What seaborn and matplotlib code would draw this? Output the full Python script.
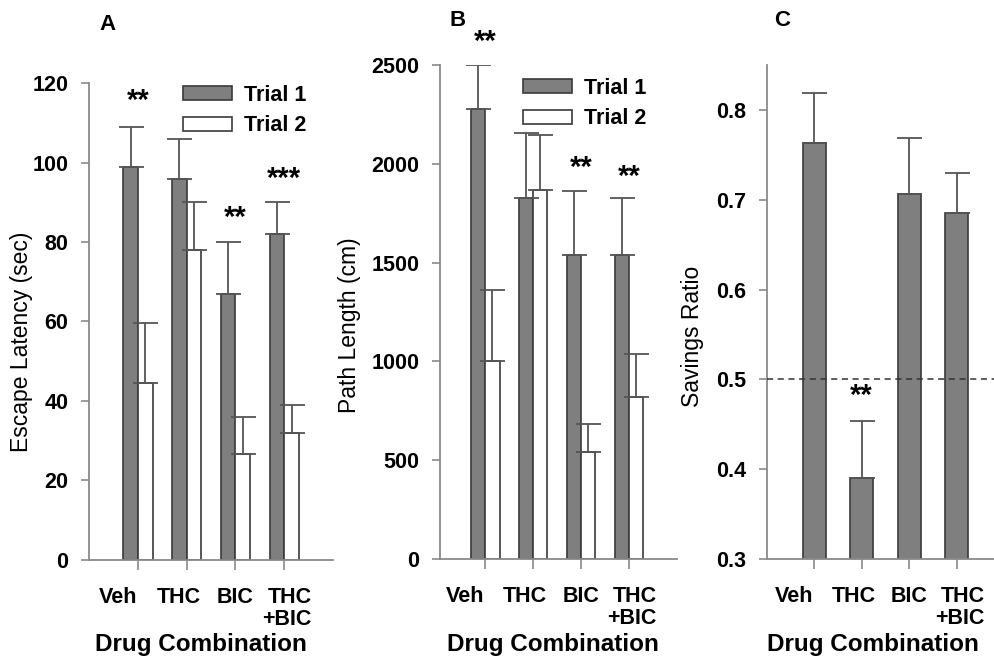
import numpy as np
import pandas as pd
import seaborn as sns
import matplotlib
matplotlib.use("Agg")
import matplotlib.pyplot as plt
from matplotlib.patches import Patch
from matplotlib.transforms import ScaledTranslation

# ---------------- data ----------------
drugs = ["Veh", "THC", "BIC", "THC\n+BIC"]
trials = ["Trial 1", "Trial 2"]

latency_t1 = [99, 96, 67, 82]
latency_t1_sem = [10, 10, 13, 8]
latency_t2 = [44.5, 78, 26.5, 32]
latency_t2_sem = [15, 12, 9.5, 7]

path_t1 = [2280, 1828, 1540, 1540]
path_t1_sem = [220, 329, 324, 288]
path_t2 = [1002, 1866, 538, 819]
path_t2_sem = [357, 282, 144, 220]

savings = [0.763, 0.390, 0.706, 0.685]
savings_sem = [0.056, 0.063, 0.063, 0.045]

latency_ticks = [0, 20, 40, 60, 80, 100, 120]
path_ticks = [0, 500, 1000, 1500, 2000, 2500]
savings_ticks = [0.3, 0.4, 0.5, 0.6, 0.7, 0.8]

# significance marks: (category index, y value, text)
latency_sig = [(0, 117.6, "**"), (2, 88, "**"), (3, 98, "***")]
path_sig = [(0, 2660, "**"), (2, 2020, "**"), (3, 1977, "**")]
savings_sig = [(1, 0.490, "**")]

# ---------------- style ----------------
sns.set_theme(style="ticks")
plt.rcParams["font.family"] = ["Liberation Sans", "DejaVu Sans"]
plt.rcParams["text.color"] = "black"
plt.rcParams["axes.labelcolor"] = "black"

DARK = "#7f7f7f"
EDGE = "#3a3a3a"
SPINE = "#8a8a8a"
ERR = "#555555"
palette = {"Trial 1": DARK, "Trial 2": "white"}
label_offsets_px = [-20, -8, 0, 3]

fig = plt.figure(figsize=(9.94, 6.6), dpi=100)
axA = fig.add_axes([0.0898, 0.152, 0.2452, 0.7218])
axB = fig.add_axes([0.4427, 0.1535, 0.2384, 0.7477])
axC = fig.add_axes([0.7716, 0.1535, 0.2284, 0.7477])


def long_df(v1, v2):
    return pd.DataFrame({
        "drug": drugs * 2,
        "trial": [trials[0]] * 4 + [trials[1]] * 4,
        "value": list(v1) + list(v2),
    })


def add_errors(ax, sems_per_container):
    for cont, sems in zip(list(ax.containers), sems_per_container):
        xs = [b.get_x() + b.get_width() / 2 for b in cont]
        ys = [b.get_height() + b.get_y() for b in cont]
        ax.errorbar(xs, ys, yerr=[np.zeros(len(sems)), sems], fmt="none",
                    ecolor=ERR, elinewidth=1.3, capsize=9, capthick=1.3, zorder=3)


def style_axis(ax, xlim, ylim, yticks, ylabel, ylabel_xy, xlabel_xy, fmt=None):
    ax.set_xlim(*xlim)
    ax.set_ylim(*ylim)
    ax.set_yticks(yticks)
    if fmt:
        ax.set_yticklabels([fmt(t) for t in yticks])
    for s in ["top", "right"]:
        ax.spines[s].set_visible(False)
    for s in ["left", "bottom"]:
        ax.spines[s].set_color(SPINE)
        ax.spines[s].set_linewidth(1.3)
    ax.tick_params(axis="y", length=6, width=1.2, color=SPINE, pad=9,
                   labelsize=15.5, labelcolor="black")
    ax.tick_params(axis="x", length=7, width=1.2, color=SPINE, pad=13,
                   labelsize=15.5, labelcolor="black")
    for lbl in ax.get_yticklabels():
        lbl.set_fontweight("bold")
    ax.set_xticks(range(len(drugs)))
    ax.set_xticklabels(drugs, fontweight="bold", fontsize=15.5,
                       multialignment="right", linespacing=1.05)
    for lbl, dx in zip(ax.get_xticklabels(), label_offsets_px):
        lbl.set_transform(lbl.get_transform() +
                          ScaledTranslation(dx / 100, 0, fig.dpi_scale_trans))
    ax.set_ylabel(ylabel, fontsize=16.5, fontweight="normal", color="black")
    ax.yaxis.label.set_va("center")
    ax.yaxis.set_label_coords(*ylabel_xy)
    ax.set_xlabel("Drug Combination", fontsize=17.5, fontweight="bold",
                  color="black")
    ax.xaxis.label.set_va("top")
    ax.xaxis.set_label_coords(*xlabel_xy)


def add_sig(ax, marks):
    fs = 21
    for i, y, s in marks:
        ax.annotate(s, (i, y), xytext=(0, -0.55 * fs), textcoords="offset points",
                    ha="center", va="baseline", fontsize=fs, fontweight="bold",
                    color="black", annotation_clip=False)


def add_legend(ax, anchor):
    handles = [Patch(facecolor=palette[t], edgecolor=EDGE, linewidth=1.2)
               for t in trials]
    leg = ax.legend(handles, trials, loc="upper left", bbox_to_anchor=anchor,
                    frameon=False, borderpad=0, borderaxespad=0,
                    handlelength=2.3, handleheight=0.62, handletextpad=0.55,
                    labelspacing=0.45, labelcolor="black",
                    prop={"size": 15.5, "weight": "bold"})
    return leg


# ---------------- Panel A ----------------
sns.barplot(data=long_df(latency_t1, latency_t2), x="drug", y="value",
            hue="trial", hue_order=trials, order=drugs, palette=palette,
            width=0.6, edgecolor=EDGE, linewidth=1.2, errorbar=None,
            legend=False, ax=axA)
add_errors(axA, [latency_t1_sem, latency_t2_sem])
style_axis(axA, (-1.0, 4.0), (0, 120), latency_ticks,
           "Escape Latency (sec)", (-0.277, 0.457), (0.458, -0.153))
add_sig(axA, latency_sig)
add_legend(axA, (0.384, 0.997))

# ---------------- Panel B ----------------
sns.barplot(data=long_df(path_t1, path_t2), x="drug", y="value",
            hue="trial", hue_order=trials, order=drugs, palette=palette,
            width=0.6, edgecolor=EDGE, linewidth=1.2, errorbar=None,
            legend=False, ax=axB)
add_errors(axB, [path_t1_sem, path_t2_sem])
style_axis(axB, (-0.94, 4.0), (0, 2500), path_ticks,
           "Path Length (cm)", (-0.38, 0.474), (0.477, -0.15))
add_sig(axB, path_sig)
add_legend(axB, (0.349, 0.975))

# ---------------- Panel C ----------------
sns.barplot(x=drugs, y=savings, order=drugs, color=DARK, width=0.48,
            edgecolor=EDGE, linewidth=1.2, errorbar=None, ax=axC)
add_errors(axC, [savings_sem])
axC.axhline(0.5, ls=(0, (4, 3)), color="#333333", lw=1.1, zorder=4)
style_axis(axC, (-0.99, 3.78), (0.3, 0.85), savings_ticks,
           "Savings Ratio", (-0.326, 0.45), (0.465, -0.15),
           fmt=lambda t: f"{t:.1f}")
add_sig(axC, savings_sig)

# panel letters
for letter, x, y in [("A", 108, 25), ("B", 458, 21), ("C", 782, 21)]:
    fig.text(x / 994, 1 - y / 660, letter, ha="center", va="center",
             fontsize=16, fontweight="bold", color="black")

fig.savefig("out.png", dpi=100)
